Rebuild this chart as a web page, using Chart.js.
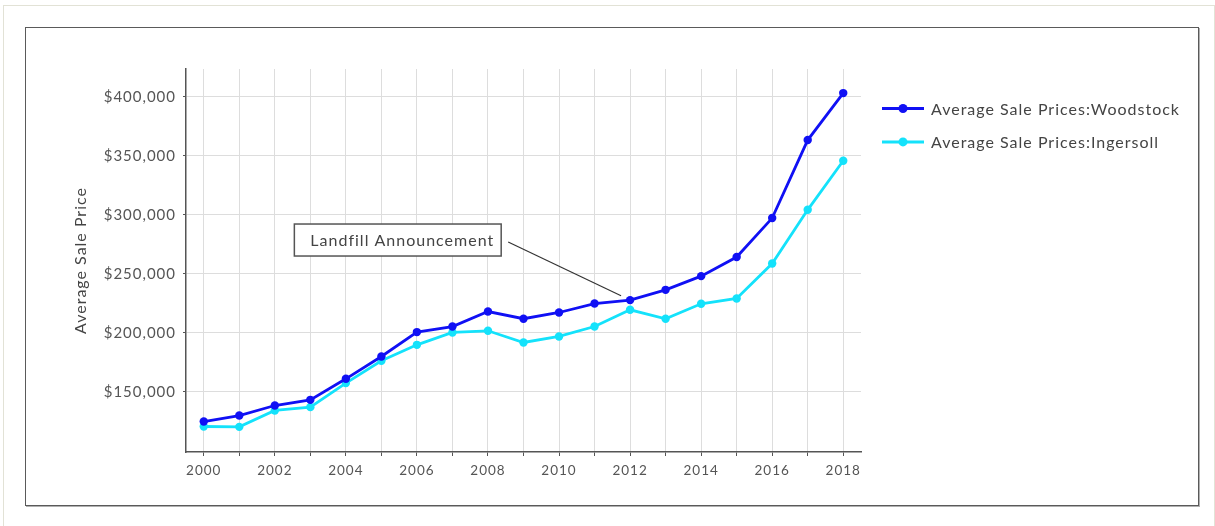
<!DOCTYPE html>
<html>
<head>
<meta charset="utf-8">
<title>Average Sale Prices</title>
<script src="https://cdn.jsdelivr.net/npm/chart.js@4.4.1/dist/chart.umd.min.js"></script>
<style>
  html, body { margin: 0; padding: 0; background: #fff; }
  #page { position: absolute; left: 3px; top: 5px; width: 1212px; height: 530px; border: 1px solid #e2e2d6; box-sizing: border-box; }
  #frame { position: absolute; left: 25px; top: 27px; width: 1174px; height: 479px; border: 1px solid #5a5a5a; box-shadow: 1px 1px 0 #b0b0b0; box-sizing: border-box; }
  #wrap { position: absolute; left: 0; top: 0; width: 1215px; height: 526px; }
</style>
</head>
<body>
<div id="page"></div>
<div id="frame"></div>
<div id="wrap"><canvas id="chart"></canvas></div>
<script>
  // Yearly average sale prices for the two towns
  const years = ["2000", "2001", "2002", "2003", "2004", "2005", "2006", "2007", "2008", "2009",
                 "2010", "2011", "2012", "2013", "2014", "2015", "2016", "2017", "2018"];
  const woodstock = [124800, 129900, 138400, 143200, 161000, 179900, 200600, 205300, 218000, 211900,
                     217200, 224800, 227700, 236400, 248000, 264200, 297200, 363300, 403100];
  const ingersoll = [120600, 120300, 134200, 137000, 157400, 176300, 189800, 200300, 201700, 191800,
                     196900, 205300, 219500, 211900, 224600, 229100, 258700, 304200, 345800];
  const priceTicks = [150000, 200000, 250000, 300000, 350000, 400000];

  const seriesNames = ["Average Sale Prices:Woodstock", "Average Sale Prices:Ingersoll"];
  const seriesColors = ["#1010f4", "#14e2fb"];

  const noteText = "Landfill Announcement";
  const noteYear = "2012";

  const FONT = "Lato, 'Open Sans', sans-serif";
  const SPACING = "1px";

  // wider tracking for all text on the canvas
  const tracking = {
    id: "tracking",
    beforeLayout(chart) { chart.ctx.letterSpacing = SPACING; },
    beforeDraw(chart) { chart.ctx.letterSpacing = SPACING; },
  };

  // Callout box with a leader line to the Woodstock point of the noted year
  const calloutPlugin = {
    id: "callout",
    afterDatasetsDraw(chart) {
      const { ctx, scales: { x, y } } = chart;
      const idx = years.indexOf(noteYear);
      const tx = x.getPixelForValue(idx);
      const ty = y.getPixelForValue(woodstock[idx]);

      ctx.save();
      ctx.font = "16px " + FONT;
      const tw = ctx.measureText(noteText).width;
      const left = x.getPixelForValue(2.55);
      const boxW = tw + 23;
      const boxH = 32;
      const cy = y.getPixelForValue(278600);
      const top = cy - boxH / 2;

      ctx.fillStyle = "#fff";
      ctx.fillRect(left, top, boxW, boxH);
      ctx.strokeStyle = "#555";
      ctx.lineWidth = 1.5;
      ctx.strokeRect(left, top, boxW, boxH);
      ctx.fillStyle = "#444";
      ctx.textBaseline = "middle";
      ctx.fillText(noteText, left + 16, cy + 1);

      // leader line stops just short of the point
      const sx = left + boxW + 7, sy = cy + 2;
      const dx = tx - sx, dy = ty - sy;
      const len = Math.hypot(dx, dy);
      const ex = tx - dx / len * 10, ey = ty - dy / len * 10;
      ctx.beginPath();
      ctx.moveTo(sx, sy);
      ctx.lineTo(ex, ey);
      ctx.strokeStyle = "#333";
      ctx.lineWidth = 1.2;
      ctx.stroke();
      ctx.restore();
    }
  };

  // Legend on the right: line segment with a dot, then the series name
  const sideLegend = {
    id: "sideLegend",
    afterDraw(chart) {
      const { ctx, chartArea } = chart;
      ctx.save();
      ctx.font = "16px " + FONT;
      ctx.textBaseline = "middle";
      chart.data.datasets.forEach((ds, i) => {
        const lx = chartArea.right + 21;
        const ly = chartArea.top + 39.5 + i * 33.4;
        ctx.strokeStyle = ds.borderColor;
        ctx.lineWidth = 3;
        ctx.beginPath();
        ctx.moveTo(lx, ly);
        ctx.lineTo(lx + 42, ly);
        ctx.stroke();
        ctx.fillStyle = ds.borderColor;
        ctx.beginPath();
        ctx.arc(lx + 21, ly, 4.5, 0, Math.PI * 2);
        ctx.fill();
        ctx.fillStyle = "#444";
        ctx.fillText(ds.label, lx + 49, ly + 1);
      });
      ctx.restore();
    }
  };

  const ctx = document.getElementById("chart").getContext("2d");
  new Chart(ctx, {
    type: "line",
    data: {
      labels: years,
      datasets: [
        {
          label: seriesNames[0],
          data: woodstock,
          borderColor: seriesColors[0],
          backgroundColor: seriesColors[0],
          borderWidth: 2.8,
          pointRadius: 4.2,
          pointBorderWidth: 0,
          tension: 0,
        },
        {
          label: seriesNames[1],
          data: ingersoll,
          borderColor: seriesColors[1],
          backgroundColor: seriesColors[1],
          borderWidth: 2.8,
          pointRadius: 4.2,
          pointBorderWidth: 0,
          tension: 0,
        },
      ],
    },
    options: {
      responsive: true,
      maintainAspectRatio: false,
      animation: false,
      layout: { padding: { left: 67, top: 69, right: 354, bottom: 20 } },
      plugins: {
        legend: { display: false },
        tooltip: { enabled: false },
      },
      scales: {
        x: {
          type: "category",
          offset: true,
          afterFit: (scale) => { scale.height = 54; },
          grid: { offset: false, color: "#dddddd", tickColor: "#555", tickLength: 4, lineWidth: 1 },
          border: { color: "#555", width: 1.5 },
          ticks: {
            autoSkip: false,
            maxRotation: 0,
            padding: 7,
            color: "#555",
            font: { family: FONT, size: 13.5 },
            callback: function (value, index) {
              const label = this.getLabelForValue(value);
              return Number(label) % 2 === 0 ? label : "";
            },
          },
        },
        y: {
          min: 99000,
          max: 423500,
          afterFit: (scale) => { scale.width = 119; },
          afterBuildTicks: (scale) => { scale.ticks = priceTicks.map((v) => ({ value: v })); },
          title: {
            display: true,
            text: "Average Sale Price",
            color: "#444",
            font: { family: FONT, size: 16 },
          },
          grid: { color: "#dddddd", tickColor: "#555", tickLength: 3, lineWidth: 1 },
          border: { color: "#555", width: 1.5 },
          ticks: {
            padding: 7,
            color: "#555",
            font: { family: FONT, size: 15 },
            callback: (v) => "$" + v.toLocaleString("en-US"),
          },
        },
      },
    },
    plugins: [tracking, calloutPlugin, sideLegend],
  });
</script>
</body>
</html>
